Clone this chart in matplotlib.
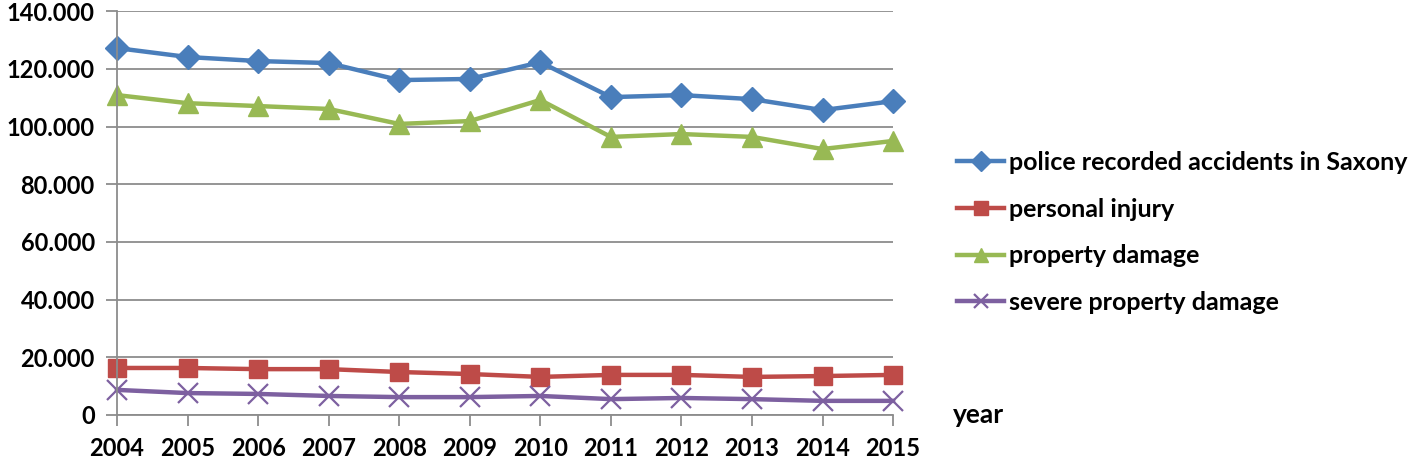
import matplotlib
matplotlib.use('Agg')
import matplotlib.pyplot as plt
from matplotlib.ticker import FuncFormatter, MultipleLocator

plt.rcParams['font.family'] = ['Lato', 'DejaVu Sans']

years = [2004, 2005, 2006, 2007, 2008, 2009, 2010, 2011, 2012, 2013, 2014, 2015]
police = [127200, 124100, 122700, 122000, 116100, 116500, 122300, 110200, 110900, 109500, 105700, 108800]
injury = [16300, 16300, 15900, 15900, 14900, 14200, 13200, 13900, 13900, 13200, 13500, 13900]
property_dmg = [110900, 108100, 107100, 106100, 100900, 101900, 109200, 96400, 97400, 96400, 92200, 95000]
severe = [8700, 7600, 7300, 6600, 6200, 6200, 6600, 5500, 5900, 5500, 4900, 4900]

names = ['police recorded accidents in Saxony', 'personal injury',
         'property damage', 'severe property damage']

fig = plt.figure(figsize=(14.18, 4.61), dpi=100)
ax = fig.add_axes([0.0825, 0.0998, 0.5473, 0.876])

grid_c = '#8c8c8c'
ax.plot(years, police, color='#4A7EBB', lw=3.2, marker='D', ms=12, label=names[0])
ax.plot(years, injury, color='#BE4B48', lw=3.2, marker='s', ms=13, label=names[1])
ax.plot(years, property_dmg, color='#98B954', lw=3.2, marker='^', ms=15, label=names[2])
ax.plot(years, severe, color='#7D60A0', lw=3.2, marker='x', ms=14, mew=1.6, label=names[3])

ax.set_xlim(2004, 2015)
ax.set_ylim(0, 140000)
ax.yaxis.set_major_locator(MultipleLocator(20000))
ax.set_xticks(years)
ax.yaxis.set_major_formatter(FuncFormatter(lambda v, p: '0' if v == 0 else f'{int(v):,}'.replace(',', '.')))
ax.grid(axis='y', color=grid_c, lw=1.3)
ax.set_axisbelow(True)
for s in ['top', 'right']:
    ax.spines[s].set_visible(False)
for s in ['left', 'bottom']:
    ax.spines[s].set_color(grid_c)
    ax.spines[s].set_linewidth(1.3)
ax.tick_params(axis='both', color=grid_c, width=1.3, length=8, labelsize=17, pad=8)
for t in ax.get_xticklabels() + ax.get_yticklabels():
    t.set_fontweight('bold')
for l in ax.lines:
    l.set_clip_on(False)

fig.text(978 / 1418, 1 - 423 / 461, 'year', fontsize=19, fontweight='bold', ha='center', va='baseline')

leg = ax.legend(loc='upper left', bbox_to_anchor=(1.054, 0.71), frameon=False,
                handlelength=1.85, handletextpad=0.2, labelspacing=0.95,
                prop={'weight': 'bold', 'size': 18})
for h in leg.legend_handles:
    h.set_markersize(10)

fig.savefig('out.png', dpi=100)
